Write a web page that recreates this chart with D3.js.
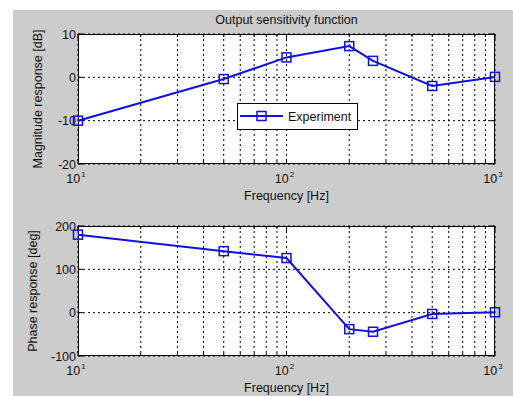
<!DOCTYPE html>
<html><head><meta charset="utf-8">
<script src="https://cdn.jsdelivr.net/npm/d3@7"></script>
<style>body{margin:0;background:#fff}svg{display:block}</style>
</head><body>
<script>
const freq = [10, 50, 100, 200, 260, 500, 1000];
const magnitude = [-10, -0.4, 4.6, 7.2, 3.8, -2.0, 0.1];
const phase = [180, 142, 126, -38, -44, -3, 1];
const xTicks = [10, 100, 1000];
const magTicks = [-20, -10, 0, 10];
const phaseTicks = [-100, 0, 100, 200];
const seriesName = "Experiment";

const W = 513, H = 396;
const FS = 12.5;
const svg = d3.select("body").append("svg").attr("width", W).attr("height", H)
  .style("font-family", "'Liberation Sans', Arial, sans-serif");
svg.append("rect").attr("x", 13).attr("y", 10).attr("width", W - 13).attr("height", H - 10).attr("fill", "#cccccc");

const blue = "#1010e0";
const left = 78, right = 495;
const x = d3.scaleLog().domain([10, 1000]).range([left, right]);
const minor = [];
for (let d = 10; d < 1000; d *= 10) for (let k = 2; k <= 9; k++) minor.push(d * k);

function panel(top, bottom, domain, yTicks, values, ylabel, ylabelX, title, legend) {
  const y = d3.scaleLinear().domain(domain).range([bottom, top]);
  const g = svg.append("g");
  g.append("rect").attr("x", left).attr("y", top).attr("width", right - left).attr("height", bottom - top).attr("fill", "#fff");
  const all = minor.concat(xTicks);
  g.selectAll(".vg").data(all).join("line")
    .attr("x1", d => x(d)).attr("x2", d => x(d)).attr("y1", top).attr("y2", bottom)
    .attr("stroke", "#000").attr("stroke-width", 1).attr("stroke-dasharray", "2,3");
  g.selectAll(".hg").data(yTicks).join("line")
    .attr("x1", left).attr("x2", right).attr("y1", d => y(d)).attr("y2", d => y(d))
    .attr("stroke", "#000").attr("stroke-width", 1).attr("stroke-dasharray", "2,3");
  all.forEach(d => {
    const len = xTicks.includes(d) ? 5 : 3;
    g.append("line").attr("x1", x(d)).attr("x2", x(d)).attr("y1", bottom).attr("y2", bottom - len).attr("stroke", "#000");
    g.append("line").attr("x1", x(d)).attr("x2", x(d)).attr("y1", top).attr("y2", top + len).attr("stroke", "#000");
  });
  yTicks.forEach(d => {
    g.append("line").attr("x1", left).attr("x2", left + 5).attr("y1", y(d)).attr("y2", y(d)).attr("stroke", "#000");
    g.append("line").attr("x1", right).attr("x2", right - 5).attr("y1", y(d)).attr("y2", y(d)).attr("stroke", "#000");
  });
  g.append("rect").attr("x", left + 0.5).attr("y", top + 0.5).attr("width", right - left - 1).attr("height", bottom - top - 1)
    .attr("fill", "none").attr("stroke", "#000").attr("stroke-width", 1);
  g.selectAll(".yl").data(yTicks).join("text")
    .attr("x", left - 2).attr("y", d => y(d) + 4.5).attr("text-anchor", "end")
    .attr("font-size", FS).attr("fill", "#111").text(d => d);
  xTicks.forEach(d => {
    const t = g.append("text").attr("x", x(d) - 2).attr("y", bottom + 19).attr("text-anchor", "middle")
      .attr("font-size", FS).attr("fill", "#111");
    t.append("tspan").text("10");
    t.append("tspan").attr("dy", -6).attr("dx", 1).attr("font-size", 8).text(Math.round(Math.log10(d)));
  });
  g.append("text").attr("x", (left + right) / 2).attr("y", bottom + 36).attr("text-anchor", "middle")
    .attr("font-size", FS).attr("fill", "#111").text("Frequency [Hz]");
  g.append("text").attr("transform", `translate(${ylabelX},${(top + bottom) / 2}) rotate(-90)`)
    .attr("text-anchor", "middle").attr("font-size", FS).attr("fill", "#111").text(ylabel);
  if (title) g.append("text").attr("x", (left + right) / 2).attr("y", top - 10).attr("text-anchor", "middle")
    .attr("font-size", FS).attr("fill", "#111").text(title);
  const line = d3.line().x((d, i) => x(freq[i])).y(d => y(d));
  g.append("path").datum(values).attr("d", line).attr("fill", "none").attr("stroke", blue).attr("stroke-width", 2);
  g.selectAll(".mk").data(values).join("rect")
    .attr("x", (d, i) => x(freq[i]) - 4.5).attr("y", d => y(d) - 4.5).attr("width", 9).attr("height", 9)
    .attr("fill", "none").attr("stroke", blue).attr("stroke-width", 1.5);
  if (legend) {
    const lx = 237, ly = 103, lw = 120, lh = 26;
    g.append("rect").attr("x", lx + 0.5).attr("y", ly + 0.5).attr("width", lw).attr("height", lh).attr("fill", "#fff").attr("stroke", "#000");
    g.append("line").attr("x1", lx + 3).attr("x2", lx + 46).attr("y1", ly + 13).attr("y2", ly + 13).attr("stroke", blue).attr("stroke-width", 2);
    g.append("rect").attr("x", lx + 20).attr("y", ly + 8.5).attr("width", 9).attr("height", 9).attr("fill", "none").attr("stroke", blue).attr("stroke-width", 1.5);
    g.append("text").attr("x", lx + 51).attr("y", ly + 18).attr("font-size", FS).attr("fill", "#111").text(seriesName);
  }
}

panel(34, 164, [-20, 10], magTicks, magnitude, "Magnitude response [dB]", 42, "Output sensitivity function", true);
panel(226, 356, [-100, 200], phaseTicks, phase, "Phase response [deg]", 37, null, false);
</script>
</body></html>
